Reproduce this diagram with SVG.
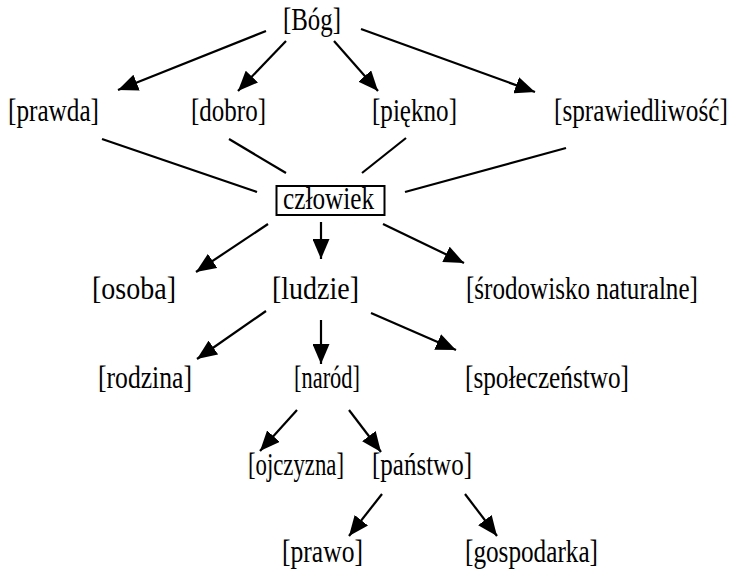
<svg xmlns="http://www.w3.org/2000/svg" width="732" height="569" viewBox="0 0 732 569">
<style>
text{font-family:"Liberation Serif","Times New Roman",serif;font-size:31px;fill:#000}
.c line{stroke:#000;stroke-width:2.2}
.a{marker-end:url(#ah)}
</style>
<defs>
<marker id="ah" markerUnits="userSpaceOnUse" markerWidth="21" markerHeight="17" refX="20" refY="8.5" orient="auto">
<path d="M0,0 L20,8.5 L0,17 z" fill="#000"/>
</marker>
</defs>
<rect width="732" height="569" fill="#fff"/>
<g class="c" id="connectors">
<line class="a" x1="266" y1="31" x2="118" y2="90"/>
<line class="a" x1="286" y1="41" x2="238" y2="91"/>
<line class="a" x1="334" y1="41" x2="378" y2="91"/>
<line class="a" x1="361" y1="29" x2="535" y2="92"/>
<line x1="102" y1="139" x2="257" y2="192"/>
<line x1="229" y1="139" x2="286" y2="173"/>
<line x1="406" y1="138" x2="362" y2="173"/>
<line x1="566" y1="148" x2="405" y2="192"/>
<line class="a" x1="268" y1="224" x2="196" y2="272"/>
<line class="a" x1="321" y1="222" x2="321" y2="259"/>
<line class="a" x1="383" y1="224" x2="464" y2="263"/>
<line class="a" x1="266" y1="311" x2="197" y2="359"/>
<line class="a" x1="321" y1="320" x2="321" y2="364"/>
<line class="a" x1="371" y1="313" x2="456" y2="350"/>
<line class="a" x1="297" y1="410" x2="260" y2="451"/>
<line class="a" x1="349" y1="410" x2="381" y2="452"/>
<line class="a" x1="382" y1="494" x2="349" y2="536"/>
<line class="a" x1="465" y1="494" x2="497" y2="536"/>
</g>
<g id="bog"><text x="283" y="30" textLength="58" lengthAdjust="spacingAndGlyphs">[Bóg]</text></g>
<g id="prawda"><text x="8" y="121" textLength="91" lengthAdjust="spacingAndGlyphs">[prawda]</text></g>
<g id="dobro"><text x="191" y="121" textLength="75" lengthAdjust="spacingAndGlyphs">[dobro]</text></g>
<g id="piekno"><text x="372" y="121" textLength="85" lengthAdjust="spacingAndGlyphs">[piękno]</text></g>
<g id="sprawiedliwosc"><text transform="translate(554,121) scale(0.815,1)">[sprawiedliwość]</text></g>
<g id="czlowiek"><rect x="276.5" y="186" width="108" height="29" fill="none" stroke="#000" stroke-width="2"/><text x="283" y="209" textLength="91" lengthAdjust="spacingAndGlyphs">człowiek</text></g>
<g id="osoba"><text x="92" y="299" textLength="84" lengthAdjust="spacingAndGlyphs">[osoba]</text></g>
<g id="ludzie"><text x="272" y="299" textLength="87" lengthAdjust="spacingAndGlyphs">[ludzie]</text></g>
<g id="srodowisko"><text transform="translate(466,299) scale(0.809,1)">[środowisko naturalne]</text></g>
<g id="rodzina"><text x="98" y="388" textLength="94" lengthAdjust="spacingAndGlyphs">[rodzina]</text></g>
<g id="narod"><text x="294" y="388" textLength="66" lengthAdjust="spacingAndGlyphs">[naród]</text></g>
<g id="spoleczenstwo"><text x="465" y="388" textLength="164" lengthAdjust="spacingAndGlyphs">[społeczeństwo]</text></g>
<g id="ojczyzna"><text x="248" y="475" textLength="96" lengthAdjust="spacingAndGlyphs">[ojczyzna]</text></g>
<g id="panstwo"><text x="372" y="475" textLength="100" lengthAdjust="spacingAndGlyphs">[państwo]</text></g>
<g id="prawo"><text x="282" y="562" textLength="81" lengthAdjust="spacingAndGlyphs">[prawo]</text></g>
<g id="gospodarka"><text x="465" y="562" textLength="133" lengthAdjust="spacingAndGlyphs">[gospodarka]</text></g>
</svg>
